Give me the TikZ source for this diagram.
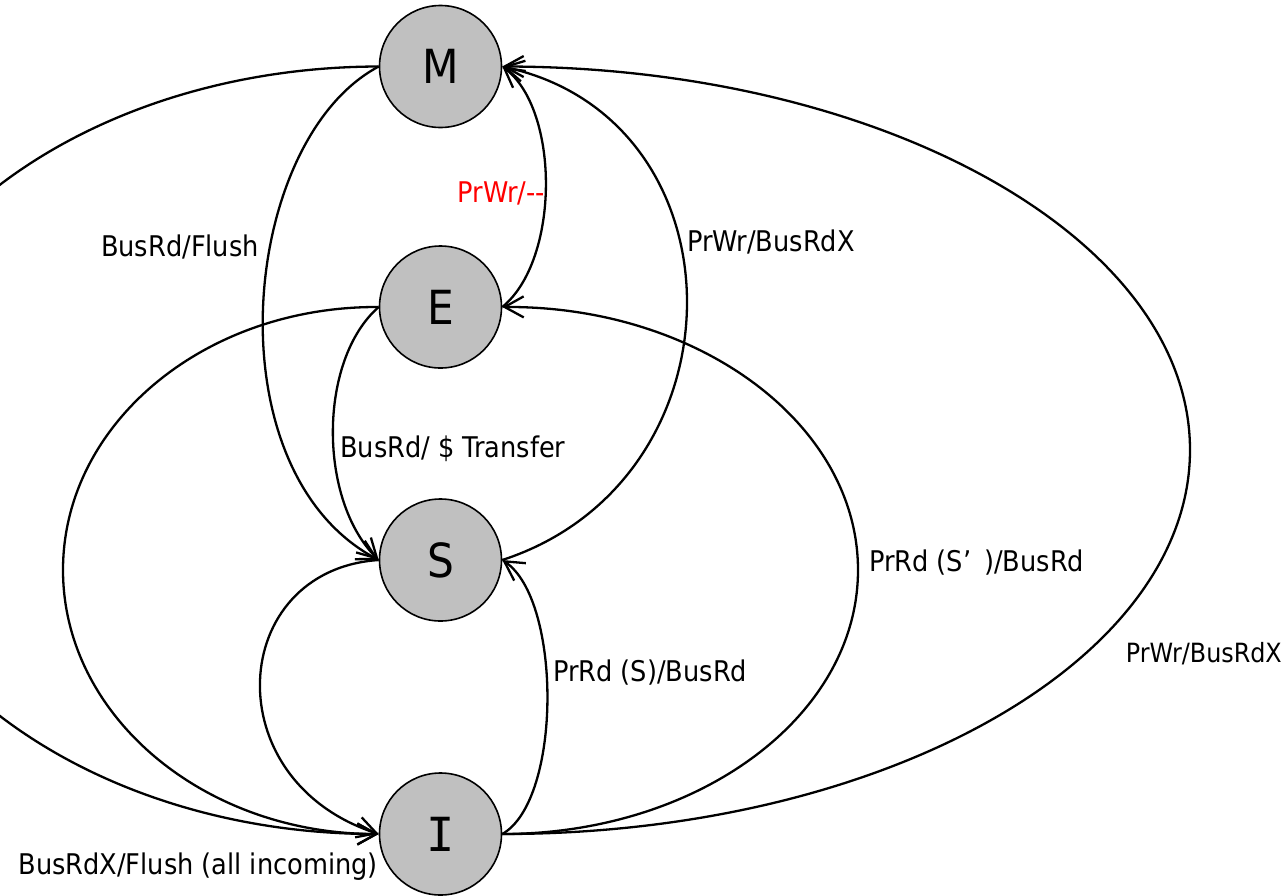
\documentclass[tikz,border=0pt]{standalone}
\usepackage{fontspec}
\setmainfont{DejaVu Sans Condensed}
\newfontfamily\monoface{DejaVu Sans Mono}
\usetikzlibrary{arrows.meta}
\definecolor{statefill}{RGB}{192,192,192}
\begin{document}
\begin{tikzpicture}[x=1pt,y=-1pt,
  state/.style={circle, draw, line width=1.6pt, fill=statefill,
    minimum size=122pt, inner sep=0pt, font=\fontsize{47}{50}\selectfont},
  trans/.style={line width=2.3pt, -{Straight Barb[length=19pt,width=21pt]}},
  lbl/.style={font=\fontsize{28.5}{34}\selectfont, inner sep=0pt},
]
\useasboundingbox (0,0) rectangle (1286,895);
\clip (0,0) rectangle (1286,895);

% states
\node[state] (M) at (440.5,66.5) {M};
\node[state] (E) at (440.5,307) {E};
\node[state] (S) at (440.5,560) {S};
\node[state] (I) at (440.5,834) {\monoface I};

% transitions on the left
\draw[trans] (M.west) .. controls (89,67) and (-146,238) .. (-146,450)
  .. controls (-146,662) and (89,834) .. (I.west);
\draw[trans] (E.west) .. controls (204,306) and (63,424) .. (63,570)
  .. controls (63,716) and (204,834) .. (I.west);
\draw[trans] (M.west) .. controls (240,140) and (210,470) .. (S.west);
\draw[trans] (E.west) .. controls (318,360) and (318,500) .. (S.west);
\draw[trans] (S.west) .. controls (228,570) and (214,780) .. (I.west);

% transitions on the right
\draw[trans] (I.east) .. controls (562,800) and (562,600) .. (S.east);
\draw[trans] (S.east) .. controls (748,480) and (748,120) .. (M.east);
\draw[trans] (E.east) .. controls (560,260) and (560,110) .. (M.east);
\draw[trans] (I.east) .. controls (699,834) and (858,716) .. (858,570)
  .. controls (858,424) and (699,306) .. (E.east);
\draw[trans] (I.east) .. controls (882,834) and (1190,662) .. (1190,450)
  .. controls (1190,238) and (882,67) .. (M.east);

% labels
\node[lbl, anchor=base east] (lMS) at (259,256) {BusRd/Flush};
\node[lbl, anchor=base east, text=red] (lEM) at (545,202) {PrWr/-{}-};
\node[lbl, anchor=base west] (lSM) at (687,251) {PrWr/BusRdX};
\node[lbl, anchor=base west] (lES) at (340,457) {BusRd/ \$ Transfer};
\node[lbl, anchor=base west] (lIE) at (869,571) {PrRd (S’\kern0.45em)/BusRd};
\node[lbl, anchor=base west] (lIS) at (553,681) {PrRd (S)/BusRd};
\node[lbl, anchor=base east, font=\fontsize{26.5}{31}\selectfont] (lIM) at (1282,662) {PrWr/BusRdX};
\node[lbl, anchor=base east] (lAll) at (378,874) {BusRdX/Flush (all incoming)};
\end{tikzpicture}
\end{document}
